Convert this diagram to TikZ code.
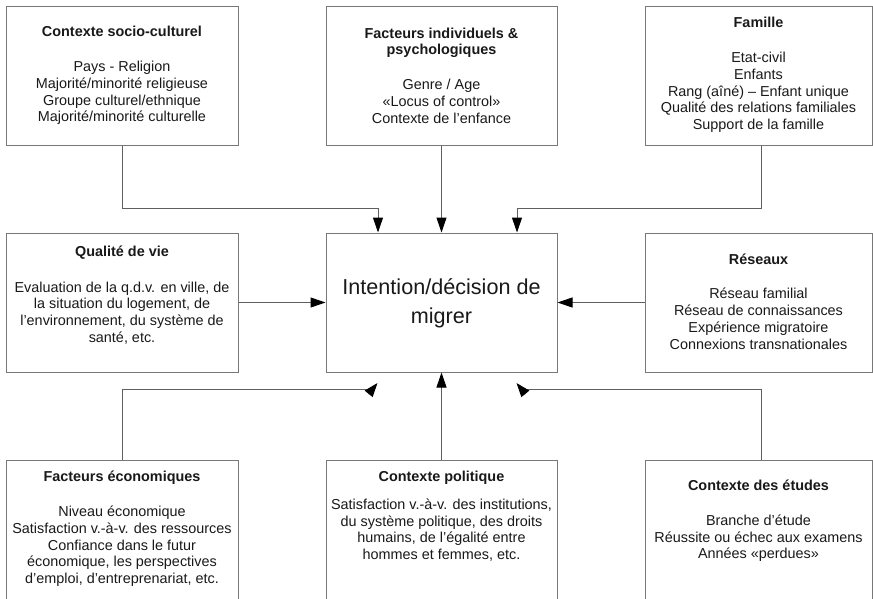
\documentclass[tikz,border=0pt]{standalone}
\usepackage{fontspec}
\setmainfont{Liberation Sans}
\usetikzlibrary{arrows.meta,calc}
\definecolor{boxc}{RGB}{120,120,120}
\definecolor{linec}{RGB}{95,95,95}
\definecolor{txtc}{RGB}{25,25,25}
\tikzset{
  box/.style={draw=boxc, line width=1pt, fill=white, rectangle, inner sep=0pt},
  txt/.style={align=center, text=txtc, inner sep=0pt, font=\fontsize{14.4pt}{16.8pt}\selectfont},
  bigtxt/.style={align=center, text=txtc, inner sep=0pt, font=\fontsize{21.6pt}{29pt}\selectfont},
  conn/.style={draw=linec, line width=1pt},
  arr/.style={conn, -{Triangle[length=15pt,width=10pt,color=black]}},
  sarr/.style={conn, -{Triangle[length=14pt,width=10pt,color=black]}}
}
\begin{document}
\begin{tikzpicture}[x=1pt,y=-1pt]
\useasboundingbox (0,0) rectangle (873,598);
\fill[white] (0,0) rectangle (873,598);
\clip (0,0) rectangle (873,598);

% boxes
\node[box, minimum width=232pt, minimum height=139pt] (csc) at (122,75.5) {};
\node[box, minimum width=231pt, minimum height=139pt] (fip) at (441.5,75.5) {};
\node[box, minimum width=227pt, minimum height=139pt] (fam) at (758.5,75.5) {};
\node[box, minimum width=232pt, minimum height=139pt] (qdv) at (122,302.5) {};
\node[box, minimum width=231pt, minimum height=139pt] (ctr) at (441.5,302.5) {};
\node[box, minimum width=227pt, minimum height=139pt] (res) at (758.5,302.5) {};
\node[box, minimum width=232pt, minimum height=160pt] (eco) at (122,540) {};
\node[box, minimum width=231pt, minimum height=160pt] (pol) at (441.5,540) {};
\node[box, minimum width=227pt, minimum height=160pt] (etu) at (758.5,540) {};

% texts
\node[txt] (tcsc) at (122,75.5) {\textbf{Contexte socio-culturel}\\[18pt]Pays - Religion\\Majorité/minorité religieuse\\Groupe culturel/ethnique\\Majorité/minorité culturelle};
\node[txt] (tfip) at (441.5,75.5) {\textbf{Facteurs individuels \&}\\\textbf{psychologiques}\\[18pt]Genre / Age\\«Locus of control»\\Contexte de l’enfance};
\node[txt] (tfam) at (758.5,75) {\textbf{Famille}\\[18pt]Etat-civil\\Enfants\\Rang (aîné) – Enfant unique\\Qualité des relations familiales\\Support de la famille};
\node[txt] (tqdv) at (122,295) {\textbf{Qualité de vie}\\[19pt]Evaluation de la q.d.v. en ville, de\\la situation du logement, de\\l’environnement, du système de\\santé, etc.};
\node[bigtxt] (tctr) at (441.5,303) {Intention/décision de\\migrer};
\node[txt] (tres) at (758.5,301.5) {\textbf{Réseaux}\\[18pt]Réseau familial\\Réseau de connaissances\\Expérience migratoire\\Connexions transnationales};
\node[txt] (teco) at (122,529) {\textbf{Facteurs économiques}\\[18pt]Niveau économique\\Satisfaction v.-à-v. des ressources\\Confiance dans le futur\\économique, les perspectives\\d’emploi, d’entreprenariat, etc.};
\node[txt] (tpol) at (441.5,516.5) {\textbf{Contexte politique}\\[10.5pt]Satisfaction v.-à-v. des institutions,\\du système politique, des droits\\humains, de l’égalité entre\\hommes et femmes, etc.};
\node[txt] (tetu) at (758.5,521) {\textbf{Contexte des études}\\[18pt]Branche d’étude\\Réussite ou échec aux examens\\Années «perdues»};

% connector helper coordinates
\coordinate (t1) at (378,208);
\coordinate (t3) at (517,208);
\coordinate (fx) at (761,0);
\coordinate (b1) at (368,389);
\coordinate (b2) at (527,389);
\coordinate (b1s) at (368.5,394);
\coordinate (b1t) at (377.5,383);
\coordinate (b2s) at (525.5,394);
\coordinate (b2t) at (516.5,383);

% top connectors
\draw[arr] (csc.south) |- (t1) -- (t1 |- ctr.north);
\draw[arr] (fip.south) -- (ctr.north);
\draw[arr] (fam.south -| fx) |- (t3) -- (t3 |- ctr.north);
% side connectors
\draw[arr] (qdv.east) -- (ctr.west);
\draw[arr] (res.west) -- (ctr.east);
% bottom connectors
\draw[conn] (eco.north) |- (b1);
\draw[sarr] (b1s) -- (b1t);
\draw[arr] (pol.north) -- (ctr.south);
\draw[conn] (etu.north -| fx) |- (b2);
\draw[sarr] (b2s) -- (b2t);
\end{tikzpicture}
\end{document}
